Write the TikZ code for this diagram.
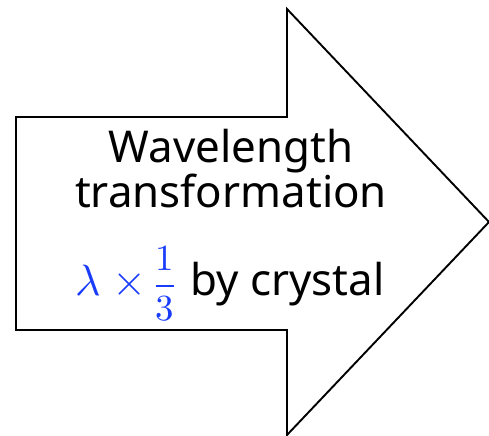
\documentclass[tikz,border=0pt]{standalone}
\usepackage{unicode-math}
\setmainfont{Noto Sans}
\setmathfont{Latin Modern Math}
\definecolor{lamblue}{RGB}{25,60,250}
\tikzset{
  label line/.style={anchor=base, inner sep=0pt, font=\fontsize{44}{48}\selectfont},
  arrow body/.style={draw=black, line width=1.9bp, line join=miter}
}
\newcommand{\thirdfrac}{{\fontsize{37}{40}\selectfont$\dfrac{1}{3}$}}
\begin{document}
\begin{tikzpicture}[x=1bp,y=-1bp]
\useasboundingbox (0,0) rectangle (489,436);
% outline of the big arrow
\coordinate (tl) at (16,117);
\coordinate (nt) at (287,117);
\coordinate (ht) at (287,9);
\coordinate (tip) at (489,222);
\coordinate (hb) at (287,435);
\coordinate (nb) at (287,330);
\coordinate (bl) at (16,330);
\draw[arrow body] (tl) -- (nt) -- (ht) -- (tip) -- (hb) -- (nb) -- (bl) -- cycle;
% the three lines of text
\node[label line] (wave) at (231,163) {Wavelength};
\node[label line] (trans) at (231,208) {transformation};
\node[label line] (cryst) at (230,295) {\textcolor{lamblue}{$\lambda\;{\times}\,$\thirdfrac}\hspace{4bp} by crystal};
\end{tikzpicture}
\end{document}
